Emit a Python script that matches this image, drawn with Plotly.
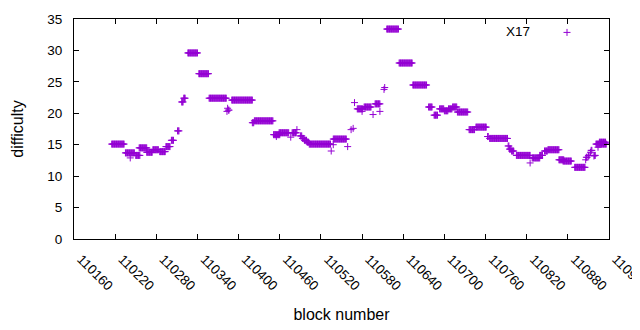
import numpy as np
import plotly.graph_objects as go

# Difficulty runs: (first block, last block, difficulty)
run_start = [110215, 110235, 110242, 110250, 110255, 110266, 110275, 110285, 110294, 110302,
             110311, 110317, 110320, 110326, 110342, 110357, 110383, 110384, 110385, 110390,
             110420, 110423, 110451, 110455, 110459, 110476, 110478, 110485, 110490, 110493,
             110496, 110500, 110503, 110535, 110538, 110538, 110559, 110564, 110567, 110569,
             110573, 110580, 110583, 110596, 110599, 110606, 110612, 110613, 110616, 110634,
             110654, 110677, 110685, 110693, 110700, 110706, 110712, 110719, 110736, 110746,
             110763, 110766, 110793, 110795, 110798, 110805, 110825, 110828, 110839, 110846,
             110851, 110867, 110873, 110890, 110906, 110907, 110910, 110913, 110914, 110918,
             110919, 110921, 110924, 110926]
run_end = [110233, 110248, 110242, 110256, 110266, 110274, 110283, 110293, 110300, 110305,
           110313, 110319, 110322, 110340, 110356, 110382, 110383, 110384, 110386, 110420,
           110422, 110450, 110460, 110455, 110473, 110476, 110484, 110485, 110492, 110495,
           110499, 110502, 110534, 110535, 110538, 110557, 110559, 110564, 110567, 110569,
           110581, 110580, 110593, 110596, 110606, 110606, 110612, 110613, 110633, 110653,
           110674, 110682, 110690, 110699, 110705, 110711, 110718, 110734, 110744, 110761,
           110764, 110792, 110794, 110797, 110801, 110825, 110825, 110839, 110843, 110850,
           110867, 110874, 110885, 110905, 110906, 110908, 110911, 110913, 110915, 110918,
           110920, 110936, 110924, 110935]
run_value = [15.1, 13.7, 12.9, 13.3, 14.5, 13.8, 14.2, 13.9, 14.7, 15.7,
             17.2, 21.8, 22.4, 29.6, 26.3, 22.4, 20.3, 20.8, 20.5, 22.1,
             18.5, 18.8, 16.6, 16.3, 16.9, 16.2, 16.9, 17.4, 16.4, 16.0,
             15.7, 15.4, 15.1, 14.0, 15.0, 15.9, 14.7, 17.4, 17.6, 21.7,
             20.7, 20.3, 21.0, 19.8, 21.5, 20.3, 23.8, 24.1, 33.4, 28.0,
             24.5, 21.0, 19.7, 20.7, 20.4, 20.7, 21.0, 20.2, 17.4, 17.8,
             16.3, 16.0, 14.8, 14.3, 14.0, 13.3, 12.1, 12.9, 13.3, 14.0,
             14.2, 12.6, 12.4, 11.4, 12.6, 13.0, 13.3, 13.8, 14.1, 13.2,
             13.3, 15.1, 14.6, 15.4]

x_ticks = list(range(110160, 110941, 60))
y_ticks = [0, 5, 10, 15, 20, 25, 30, 35]

blocks, diffs = [], []
for s, e, v in zip(run_start, run_end, run_value):
    for b in range(s, e + 1):
        blocks.append(b)
        diffs.append(v)

color = "#9400D3"
font_family = "Liberation Sans, Arial, sans-serif"
fs = 13.5

fig = go.Figure()
fig.add_trace(go.Scatter(
    x=blocks, y=diffs, mode="markers", name="X17",
    marker=dict(symbol="cross-thin", size=5, line=dict(color=color, width=1), color=color),
    showlegend=False, hoverinfo="skip",
))

# page body has an 8px margin, so the figure is 8px smaller and offset
fig.update_layout(
    width=632, height=322,
    margin=dict(l=66, r=31, t=11, b=91),
    paper_bgcolor="white", plot_bgcolor="white",
    font=dict(family=font_family, size=fs, color="black"),
    xaxis=dict(
        range=[110160, 110940], tickvals=x_ticks, ticktext=[str(t) for t in x_ticks],
        tickangle=45, ticks="inside", ticklen=5, tickcolor="black",
        showline=True, linecolor="black", linewidth=1, mirror="ticks",
        showgrid=False, zeroline=False, automargin=False,
        title=dict(text="block number", standoff=16),
        ticklabelstandoff=6, ticklabelshift=7, ticklabeloverflow="allow",
    ),
    yaxis=dict(
        range=[0, 35], tickvals=y_ticks,
        ticks="inside", ticklen=5, tickcolor="black",
        showline=True, linecolor="black", linewidth=1, mirror="ticks",
        showgrid=False, zeroline=False, automargin=False,
        title=dict(text="difficulty", standoff=19),
        ticklabelstandoff=8,
    ),
    annotations=[dict(
        text="X17", xref="paper", yref="paper", x=0.856, y=0.9446,
        xanchor="right", yanchor="middle", showarrow=False,
        font=dict(family=font_family, size=fs, color="black"),
    )],
    shapes=[
        dict(type="line", xref="paper", yref="paper", xsizemode="pixel", ysizemode="pixel",
             xanchor=0.9215, yanchor=0.939, x0=-3.5, x1=3.5, y0=0, y1=0,
             line=dict(color=color, width=1)),
        dict(type="line", xref="paper", yref="paper", xsizemode="pixel", ysizemode="pixel",
             xanchor=0.9215, yanchor=0.939, x0=0, x1=0, y0=-3.5, y1=3.5,
             line=dict(color=color, width=1)),
    ],
)

fig.write_html("out.html")
